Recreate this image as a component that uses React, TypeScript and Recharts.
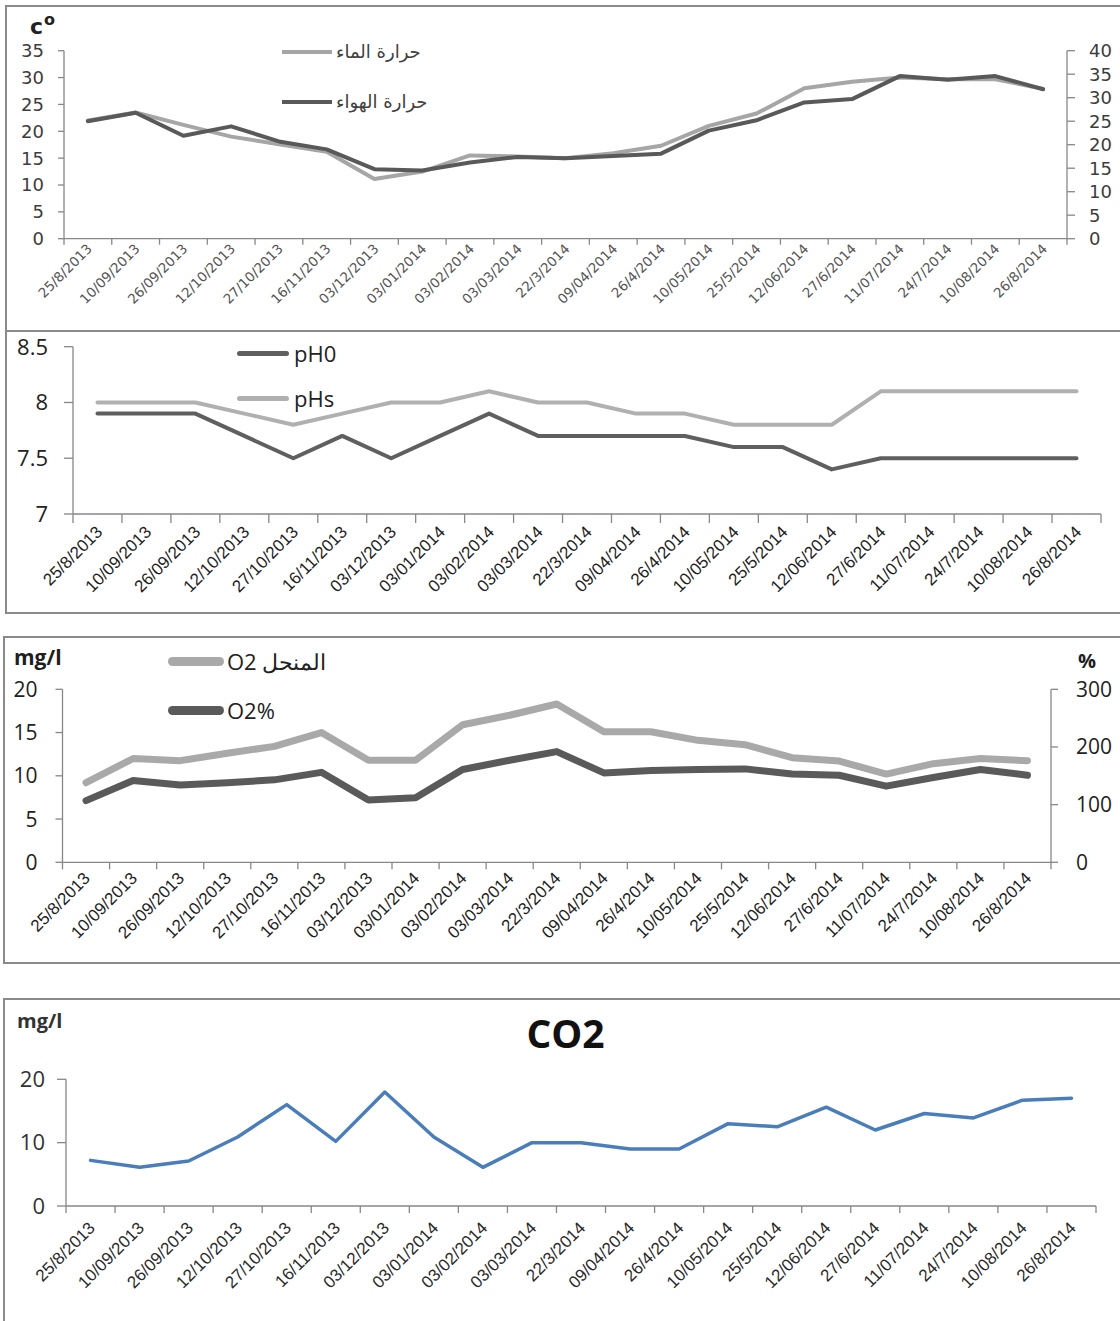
import React from 'react';
import { LineChart, Line, XAxis, YAxis, Legend } from 'recharts';

// ---------- data ----------
const dates = [
  '25/8/2013', '10/09/2013', '26/09/2013', '12/10/2013', '27/10/2013', '16/11/2013',
  '03/12/2013', '03/01/2014', '03/02/2014', '03/03/2014', '22/3/2014', '09/04/2014',
  '26/4/2014', '10/05/2014', '25/5/2014', '12/06/2014', '27/6/2014', '11/07/2014',
  '24/7/2014', '10/08/2014', '26/8/2014',
];

const waterTemp = [22, 23.5, 21.2, 19, 17.6, 16.2, 11.1, 12.5, 15.5, 15.3, 15, 15.9, 17.3, 21, 23.3, 28, 29.2, 30, 29.7, 29.7, 27.9];
const airTemp = [25, 26.8, 21.9, 23.9, 20.7, 19, 14.8, 14.5, 16.2, 17.4, 17.1, 17.6, 18.1, 23, 25.2, 29, 29.7, 34.6, 33.8, 34.6, 31.8];

const pH0 = [7.9, 7.9, 7.9, 7.7, 7.5, 7.7, 7.5, 7.7, 7.9, 7.7, 7.7, 7.7, 7.7, 7.6, 7.6, 7.4, 7.5, 7.5, 7.5, 7.5, 7.5];
const pHs = [8, 8, 8, 7.9, 7.8, 7.9, 8, 8, 8.1, 8, 8, 7.9, 7.9, 7.8, 7.8, 7.8, 8.1, 8.1, 8.1, 8.1, 8.1];

const o2Dissolved = [9.2, 12, 11.75, 12.6, 13.4, 15, 11.8, 11.8, 15.9, 17, 18.3, 15.1, 15.1, 14.1, 13.6, 12.1, 11.7, 10.2, 11.4, 12, 11.75];
const o2Percent = [107, 142, 134, 138, 143, 156, 108, 112, 161, 177, 192, 155, 159, 161, 162, 153, 151, 132, 147, 161, 151];

const co2 = [7.2, 6.1, 7.1, 10.9, 16, 10.2, 18, 10.9, 6.1, 10, 10, 9, 9, 13, 12.5, 15.6, 12, 14.6, 13.9, 16.7, 17];

const tempLeftTicks = [0, 5, 10, 15, 20, 25, 30, 35];
const tempRightTicks = [0, 5, 10, 15, 20, 25, 30, 35, 40];
const phTicks = [7, 7.5, 8, 8.5];
const o2LeftTicks = [0, 5, 10, 15, 20];
const o2RightTicks = [0, 100, 200, 300];
const co2Ticks = [0, 10, 20];

const nameWater = 'حرارة الماء';
const nameAir = 'حرارة الهواء';
const nameO2 = 'O2 المنحل';
const nameO2p = 'O2%';

const tempData = dates.map((d, i) => ({ date: d, water: waterTemp[i], air: airTemp[i] }));
const phData = dates.map((d, i) => ({ date: d, ph0: pH0[i], phs: pHs[i] }));
const o2Data = dates.map((d, i) => ({ date: d, o2: o2Dissolved[i], o2p: o2Percent[i] }));
const co2Data = dates.map((d, i) => ({ date: d, co2: co2[i] }));

// ---------- styling ----------
const AXIS = '#878787';
const LIGHT = '#a9a9a9';
const DARK = '#5a5a5a';
const W = 1120;

type TickOpts = { bw: number; dx: number; dy: number; size: number; family: string; color: string; tickLen: number; weight?: number };

const makeDateTick = (o: TickOpts) => (props: any) => {
  const { x, y, payload } = props;
  const i = props.index ?? payload?.index ?? 0;
  const last = i === dates.length - 1;
  return (
    <g>
      <line x1={x - o.bw / 2} x2={x - o.bw / 2} y1={y} y2={y + o.tickLen} stroke={AXIS} strokeWidth={1.3} />
      {last && <line x1={x + o.bw / 2} x2={x + o.bw / 2} y1={y} y2={y + o.tickLen} stroke={AXIS} strokeWidth={1.3} />}
      <text
        transform={`translate(${x + o.dx},${y + o.dy}) rotate(-45)`}
        textAnchor="end"
        fontSize={o.size}
        fontFamily={o.family}
        fontWeight={o.weight ?? 400}
        fill={o.color}
      >
        {payload.value}
      </text>
    </g>
  );
};

type LegOpts = { spacing: number; sampleW: number; thick: number; cap: 'round' | 'butt'; gap: number; size: number; family: string; color: string };

const makeLegend = (o: LegOpts) => (props: any) => (
  <div style={{ margin: 0, padding: 0 }}>
    {(props.payload || []).map((e: any, i: number) => (
      <div key={i} style={{ display: 'flex', alignItems: 'center', height: o.spacing, whiteSpace: 'nowrap' }}>
        <svg width={o.sampleW} height={o.thick + 2} style={{ display: 'block' }}>
          <line
            x1={o.cap === 'round' ? o.thick / 2 : 0}
            x2={o.cap === 'round' ? o.sampleW - o.thick / 2 : o.sampleW}
            y1={(o.thick + 2) / 2}
            y2={(o.thick + 2) / 2}
            stroke={e.color}
            strokeWidth={o.thick}
            strokeLinecap={o.cap}
          />
        </svg>
        <span style={{ marginLeft: o.gap, fontSize: o.size, fontFamily: o.family, color: o.color, lineHeight: 1, direction: 'ltr' }}>
          {e.value}
        </span>
      </div>
    ))}
  </div>
);

const lineCommon = { dot: false, activeDot: false, isAnimationActive: false, strokeLinejoin: 'round' as const, strokeLinecap: 'round' as const };

// ---------- charts ----------
function TempChart() {
  const left = 64, right = 1067;
  const bw = (right - left) / dates.length;
  return (
    <LineChart width={W} height={330} data={tempData} margin={{ top: 50.7, right: 3, bottom: 11.3, left: 4 }}>
      <XAxis
        dataKey="date" scale="band" interval={0} height={80} tickLine={false} tickSize={0} tickMargin={0}
        axisLine={{ stroke: AXIS, strokeWidth: 1.3 }}
        tick={makeDateTick({ bw, dx: 5, dy: 11, size: 13.5, family: 'DejaVu Sans', color: '#555', tickLen: 6 })}
      />
      <YAxis
        yAxisId="left" width={60} domain={[0, 35]} ticks={tempLeftTicks} interval={0}
        axisLine={{ stroke: AXIS, strokeWidth: 1.3 }} tickLine={{ stroke: AXIS, strokeWidth: 1.3 }} tickSize={6} tickMargin={14}
        tick={{ fill: '#3c3c3c', fontSize: 18, fontFamily: 'DejaVu Sans' }}
      />
      <YAxis
        yAxisId="right" orientation="right" width={50} domain={[0, 40]} ticks={tempRightTicks} interval={0}
        axisLine={{ stroke: AXIS, strokeWidth: 1.3 }} tickLine={{ stroke: AXIS, strokeWidth: 1.3 }} tickSize={8} tickMargin={14}
        tick={{ fill: '#3c3c3c', fontSize: 18, fontFamily: 'DejaVu Sans' }}
      />
      <Line yAxisId="left" dataKey="water" name={nameWater} stroke="#a6a6a6" strokeWidth={4} {...lineCommon} />
      <Line yAxisId="right" dataKey="air" name={nameAir} stroke="#595959" strokeWidth={4} {...lineCommon} />
      <Legend
        layout="vertical" align="center" verticalAlign="middle"
        wrapperStyle={{ left: 282, top: 27, width: 'auto', height: 'auto' }}
        content={makeLegend({ spacing: 50, sampleW: 50, thick: 4, cap: 'butt', gap: 4, size: 18, family: 'DejaVu Sans', color: '#404040' })}
      />
    </LineChart>
  );
}

function PhChart() {
  const left = 73, right = 1101;
  const bw = (right - left) / dates.length;
  return (
    <LineChart width={W} height={285} data={phData} margin={{ top: 16.7, right: 19, bottom: 11, left: 8 }}>
      <XAxis
        dataKey="date" scale="band" interval={0} height={90} tickLine={false} tickSize={0} tickMargin={0}
        axisLine={{ stroke: AXIS, strokeWidth: 1.3 }}
        tick={makeDateTick({ bw, dx: 6, dy: 19, size: 17, family: 'Liberation Sans', color: '#1e1e1e', tickLen: 9 })}
      />
      <YAxis
        width={65} domain={[7, 8.5]} ticks={phTicks} interval={0}
        axisLine={{ stroke: AXIS, strokeWidth: 1.3 }} tickLine={{ stroke: AXIS, strokeWidth: 1.3 }} tickSize={9} tickMargin={16}
        tick={{ fill: '#222', fontSize: 22, fontFamily: 'Open Sans' }}
      />
      <Line dataKey="ph0" name="pH0" stroke="#5f5f5f" strokeWidth={4} {...lineCommon} />
      <Line dataKey="phs" name="pHs" stroke="#b0b0b0" strokeWidth={4} {...lineCommon} />
      <Legend
        layout="vertical" align="center" verticalAlign="middle"
        wrapperStyle={{ left: 237, top: 0.5, width: 'auto', height: 'auto' }}
        content={makeLegend({ spacing: 45, sampleW: 52, thick: 5, cap: 'round', gap: 5, size: 22, family: 'Open Sans', color: '#222' })}
      />
    </LineChart>
  );
}

function O2Chart() {
  const left = 62.5, right = 1051;
  const bw = (right - left) / dates.length;
  return (
    <LineChart width={W} height={330} data={o2Data} margin={{ top: 54.3, right: 4, bottom: 7.7, left: 4.5 }}>
      <XAxis
        dataKey="date" scale="band" interval={0} height={95} tickLine={false} tickSize={0} tickMargin={0}
        axisLine={{ stroke: AXIS, strokeWidth: 1.3 }}
        tick={makeDateTick({ bw, dx: 5, dy: 17, size: 17, family: 'Liberation Sans', color: '#1e1e1e', tickLen: 7 })}
      />
      <YAxis
        yAxisId="left" width={58} domain={[0, 20]} ticks={o2LeftTicks} interval={0}
        axisLine={{ stroke: AXIS, strokeWidth: 1.3 }} tickLine={{ stroke: AXIS, strokeWidth: 1.3 }} tickSize={7} tickMargin={18}
        tick={{ fill: '#222', fontSize: 21, fontFamily: 'Open Sans' }}
      />
      <YAxis
        yAxisId="right" orientation="right" width={65} domain={[0, 300]} ticks={o2RightTicks} interval={0}
        axisLine={{ stroke: AXIS, strokeWidth: 1.3 }} tickLine={{ stroke: AXIS, strokeWidth: 1.3 }} tickSize={7} tickMargin={18}
        tick={{ fill: '#222', fontSize: 21, fontFamily: 'Open Sans' }}
      />
      <Line yAxisId="left" dataKey="o2" name={nameO2} stroke={LIGHT} strokeWidth={7} {...lineCommon} />
      <Line yAxisId="right" dataKey="o2p" name={nameO2p} stroke={DARK} strokeWidth={7} {...lineCommon} />
      <Legend
        layout="vertical" align="center" verticalAlign="middle"
        wrapperStyle={{ left: 168, top: 1.5, width: 'auto', height: 'auto' }}
        content={makeLegend({ spacing: 49, sampleW: 56, thick: 9, cap: 'round', gap: 3, size: 22, family: 'Open Sans', color: '#222' })}
      />
    </LineChart>
  );
}

function Co2Chart() {
  const left = 66, right = 1096;
  const bw = (right - left) / dates.length;
  return (
    <LineChart width={W} height={326} data={co2Data} margin={{ top: 84.3, right: 24, bottom: 10, left: 6 }}>
      <XAxis
        dataKey="date" scale="band" interval={0} height={105} tickLine={false} tickSize={0} tickMargin={0}
        axisLine={{ stroke: AXIS, strokeWidth: 1.3 }}
        tick={makeDateTick({ bw, dx: 5.5, dy: 23, size: 17, family: 'Liberation Sans', color: '#2a2a2a', tickLen: 7 })}
      />
      <YAxis
        width={60} domain={[0, 20]} ticks={co2Ticks} interval={0}
        axisLine={{ stroke: AXIS, strokeWidth: 1.3 }} tickLine={{ stroke: AXIS, strokeWidth: 1.3 }} tickSize={9} tickMargin={12}
        tick={{ fill: '#333', fontSize: 22, fontFamily: 'Open Sans' }}
      />
      <Line dataKey="co2" name="CO2" stroke="#4a7ebb" strokeWidth={3.5} {...lineCommon} />
    </LineChart>
  );
}

const panel = (left: number, top: number, height: number): React.CSSProperties => ({
  position: 'absolute', left, top, width: 1140, height, border: '2.5px solid #8a8a8a', boxSizing: 'border-box', background: '#fff',
});

const abs = (top: number): React.CSSProperties => ({ position: 'absolute', left: 0, top });

export default function App() {
  return (
    <div style={{ position: 'absolute', left: 0, top: 0, width: W, height: 1321, overflow: 'hidden', background: '#fff' }}>
      <div style={panel(5, 5, 327)} />
      <div style={panel(5, 330, 284)} />
      <div style={panel(3, 636, 328)} />
      <div style={panel(3, 998, 400)} />

      <div style={abs(0)}><TempChart /></div>
      <div style={abs(330)}><PhChart /></div>
      <div style={abs(635)}><O2Chart /></div>
      <div style={abs(995)}><Co2Chart /></div>

      <svg width={W} height={1321} style={{ position: 'absolute', left: 0, top: 0, pointerEvents: 'none' }}>
        <text x={30} y={34} fontFamily="DejaVu Sans" fontWeight={700} fontSize={22} fill="#222">c</text>
        <text x={44} y={25} fontFamily="DejaVu Sans" fontWeight={700} fontSize={16} fill="#222">o</text>
        <text x={14} y={665} fontFamily="Open Sans" fontWeight={700} fontSize={21} fill="#1e1e1e">mg/l</text>
        <text x={1078} y={668} fontFamily="Open Sans" fontWeight={700} fontSize={20} fill="#1e1e1e">%</text>
        <text x={17} y={1028} fontFamily="Open Sans" fontWeight={700} fontSize={20} fill="#333">mg/l</text>
        <text x={565.5} y={1048} textAnchor="middle" fontFamily="Open Sans" fontWeight={700} fontSize={39} fill="#111">CO2</text>
      </svg>
    </div>
  );
}
